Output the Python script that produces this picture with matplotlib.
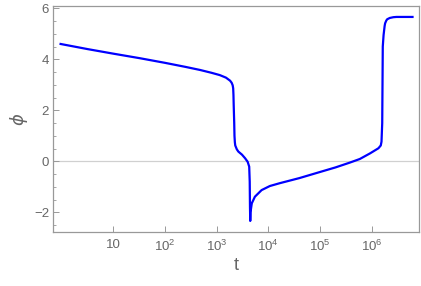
import matplotlib
matplotlib.use("Agg")
import matplotlib.pyplot as plt
from matplotlib.ticker import FixedLocator, FixedFormatter, MultipleLocator, NullLocator

plt.rcParams['font.family'] = ['Liberation Sans', 'DejaVu Sans']
plt.rcParams['mathtext.fontset'] = 'custom'
plt.rcParams['mathtext.rm'] = 'Liberation Sans'

# values
t = [0.955, 3.16, 10, 33, 100, 251, 479, 794, 1148, 1514, 1820, 1950, 2042,
     2089, 2115, 2138, 2188, 2213, 2250, 2291, 2455, 2630, 3090, 3548, 3981, 4266,
     4365, 4416, 4467, 4519, 4786, 5495, 7413, 10715, 16596, 39811,
     1.0e5, 2.0e5, 3.8e5, 5.9e5, 9.3e5, 1.35e6, 1.50e6, 1.55e6, 1.60e6, 1.62e6,
     1.64e6, 1.70e6, 1.78e6, 1.82e6, 1.92e6, 2.0e6, 2.24e6, 2.63e6, 3.02e6, 6.17e6]
phi = [4.60, 4.40, 4.22, 4.04, 3.86, 3.70, 3.58, 3.47, 3.38, 3.28, 3.16, 3.08, 2.98,
       2.86, 2.60, 2.20, 1.50, 1.00, 0.75, 0.62, 0.47, 0.38, 0.26, 0.12, -0.02, -0.21,
       -0.80, -1.80, -2.34, -2.00, -1.65, -1.39, -1.13, -0.97, -0.86, -0.66,
       -0.42, -0.24, -0.05, 0.09, 0.31, 0.51, 0.62, 0.77, 1.5, 3.0,
       4.5, 4.95, 5.30, 5.41, 5.52, 5.57, 5.62, 5.65, 5.66, 5.66]

xticks = [10, 1e2, 1e3, 1e4, 1e5, 1e6]
xlabels = ['10', '$10^2$', '$10^3$', '$10^4$', '$10^5$', '$10^6$']

frame = '#999999'
txt = '#666666'

fig = plt.figure(figsize=(4.21, 2.86), dpi=100)
ax = fig.add_axes([0.1266, 0.19, 0.8684, 0.79])

ax.axhline(0, color='#d0d0d0', lw=0.9, zorder=1)
ax.plot(t, phi, color='#0000ff', lw=1.6, solid_joinstyle='round', zorder=3)

ax.set_xscale('log')
ax.set_xlim(0.69, 8.2e6)
ax.set_ylim(-2.76, 6.1)

ax.xaxis.set_major_locator(FixedLocator(xticks))
ax.xaxis.set_major_formatter(FixedFormatter(xlabels))
ax.xaxis.set_minor_locator(NullLocator())
ax.yaxis.set_major_locator(MultipleLocator(2))
ax.yaxis.set_minor_locator(MultipleLocator(0.5))

for s in ax.spines.values():
    s.set_color(frame)
    s.set_linewidth(0.9)

ax.tick_params(which='both', direction='in', colors=frame, labelcolor=txt,
               labelsize=9.5, top=False, right=False)
ax.tick_params(which='major', length=4, width=0.7, pad=3)
ax.tick_params(axis='x', which='major', pad=5)
ax.tick_params(which='minor', length=2.2, width=0.6)

ax.set_xlabel('t', fontsize=13, color=txt, labelpad=2)
ax.set_ylabel('ϕ', fontsize=13, color=txt, family=['DejaVu Sans'],
              style='italic', labelpad=5)

fig.savefig('out.png', dpi=100)
